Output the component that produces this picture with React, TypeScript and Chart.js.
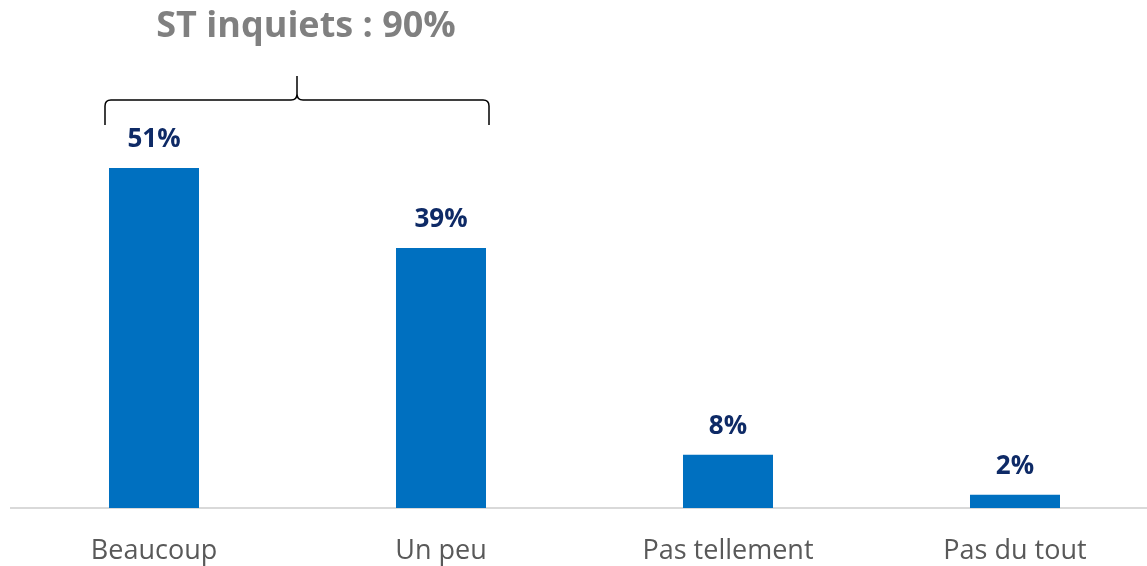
import React, { useEffect, useRef } from "react";
import { Chart, registerables } from "chart.js";

Chart.register(...registerables);

const categories = ["Beaucoup", "Un peu", "Pas tellement", "Pas du tout"];
const values = [51, 39, 8, 2];
const valueLabels = ["51%", "39%", "8%", "2%"];
const bracketTitle = "ST inquiets : 90%";
const bracketFrom = 0;
const bracketTo = 1;

const FONT = "'Open Sans', 'Noto Sans', sans-serif";

const overlayPlugin = {
  id: "overlay",
  afterDatasetsDraw(chart: any) {
    const ctx = chart.ctx;
    const meta = chart.getDatasetMeta(0);
    ctx.save();
    // value labels
    ctx.fillStyle = "#0E2A66";
    ctx.font = `bold 26px ${FONT}`;
    ctx.textAlign = "center";
    ctx.textBaseline = "alphabetic";
    meta.data.forEach((bar: any, i: number) => {
      ctx.fillText(valueLabels[i], bar.x, bar.y - 21);
    });
    // brace
    const b0 = meta.data[bracketFrom];
    const b1 = meta.data[bracketTo];
    const left = b0.x - b0.width / 2 - 4;
    const right = b1.x + b1.width / 2 + 3;
    const mid = (left + right) / 2;
    const yLine = 100;
    const yEnd = 125;
    const yTip = 76;
    const r = 6;
    ctx.strokeStyle = "#000";
    ctx.lineWidth = 1.5;
    ctx.beginPath();
    ctx.moveTo(left, yEnd);
    ctx.lineTo(left, yLine + r);
    ctx.quadraticCurveTo(left, yLine, left + r, yLine);
    ctx.lineTo(mid - r, yLine);
    ctx.quadraticCurveTo(mid, yLine, mid, yLine - r);
    ctx.lineTo(mid, yTip);
    ctx.moveTo(mid, yLine - r);
    ctx.quadraticCurveTo(mid, yLine, mid + r, yLine);
    ctx.lineTo(right - r, yLine);
    ctx.quadraticCurveTo(right, yLine, right, yLine + r);
    ctx.lineTo(right, yEnd);
    ctx.stroke();
    // title
    ctx.fillStyle = "#808080";
    ctx.font = `bold 36px ${FONT}`;
    ctx.textAlign = "center";
    ctx.textBaseline = "middle";
    ctx.fillText(bracketTitle, mid + 9, 27);
    ctx.restore();
  },
};

export default function App() {
  const ref = useRef<HTMLCanvasElement | null>(null);
  useEffect(() => {
    if (!ref.current) return;
    const chart = new Chart(ref.current, {
      type: "bar",
      data: {
        labels: categories,
        datasets: [
          {
            data: values,
            backgroundColor: "#0070C0",
            barPercentage: 0.6272,
            categoryPercentage: 0.5,
          },
        ],
      },
      options: {
        animation: false,
        responsive: false,
        maintainAspectRatio: false,
        layout: { padding: { top: 108, left: 10.5, right: 1.5, bottom: 0 } },
        plugins: { legend: { display: false }, tooltip: { enabled: false } },
        scales: {
          y: { display: false, min: 0, max: 60 },
          x: {
            grid: { display: false, drawTicks: false },
            border: { display: true, color: "#D9D9D9", width: 2 },
            ticks: {
              color: "#595959",
              font: { family: FONT, size: 27 },
              padding: 27,
              maxRotation: 0,
            },
            afterFit(scale: any) {
              scale.height = 58;
            },
          },
        },
      },
      plugins: [overlayPlugin],
    });
    return () => chart.destroy();
  }, []);
  return (
    <div style={{ position: "fixed", left: 0, top: 0, width: 1147, height: 566, overflow: "hidden", background: "#fff" }}>
      <canvas ref={ref} width={1160} height={566} style={{ width: 1160, height: 566, display: "block" }} />
    </div>
  );
}
